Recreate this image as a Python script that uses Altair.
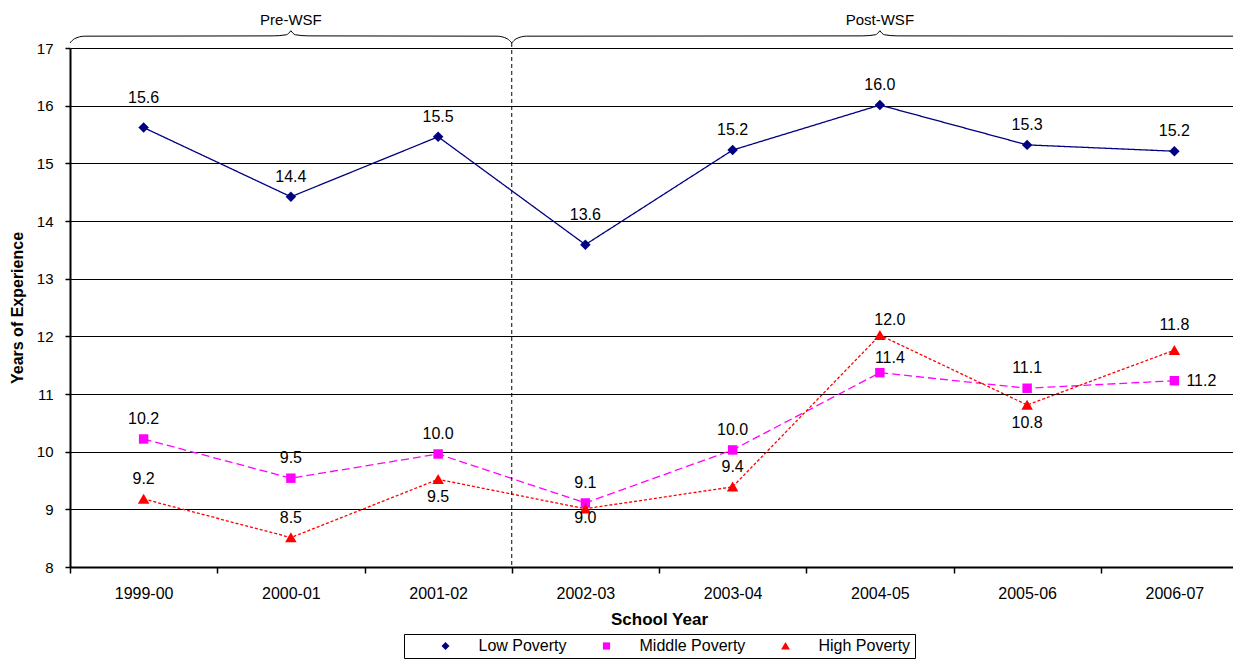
import altair as alt
import pandas as pd

# ---------------- data ----------------
years = ["1999-00", "2000-01", "2001-02", "2002-03", "2003-04", "2004-05", "2005-06", "2006-07"]
series = ["Low Poverty", "Middle Poverty", "High Poverty"]
low_poverty = [15.62, 14.42, 15.46, 13.59, 15.23, 16.01, 15.32, 15.21]
middle_poverty = [10.22, 9.54, 9.96, 9.11, 10.03, 11.37, 11.10, 11.23]
high_poverty = [9.18, 8.51, 9.52, 9.01, 9.39, 12.02, 10.81, 11.76]

# where each value label sits relative to its marker
low_label_place = ["high", "above", "above", "high", "above", "above", "above", "above"]
middle_label_place = ["above", "above", "above", "above", "above", "upright", "above", "right"]
high_label_place = ["above", "above", "below", "below_near", "above", "upright", "below", "above_far"]

period_names = ["Pre-WSF", "Post-WSF"]
period_start = [0, 3]   # in school-year slots
period_end = [3, 8]
wsf_boundary = 3

# ---------------- style ----------------
FONT = "Liberation Sans"
COLORS = ["#000080", "#FF00FF", "#FF0000"]
DASHES = [[1, 0], [8, 4], [3, 2]]
LEGEND_DASHES = [[1, 0], [9, 5], [3, 2]]
SHAPES = ["M0,-1L1,0L0,1L-1,0Z", "M-0.9,-0.9H0.9V0.9H-0.9Z", "M0,-1L1.1,0.9H-1.1Z"]
PLACE = {
    "above": (0, -20), "high": (0, -30), "above_far": (0, -25),
    "below": (0, 18), "below_near": (0, 9),
    "right": (27, 0), "upright": (10, -15),
}
Y_MIN, Y_MAX = 8, 17

rows = []
for s, vals, places in zip(series, [low_poverty, middle_poverty, high_poverty],
                           [low_label_place, middle_label_place, high_label_place]):
    for yr, v, p in zip(years, vals, places):
        rows.append({"year": yr, "series": s, "marker": s, "value": v, "place": p})
df = pd.DataFrame(rows)

# brace geometry (drawn above the top of the value axis)
B_END, B_FLAT, B_TIP = Y_MAX + 0.087, Y_MAX + 0.21, Y_MAX + 0.3


def brace(a, b, name):
    m = (a + b) / 2.0
    left = [(a, B_END), (a + 0.03, B_FLAT - 0.05), (a + 0.1, B_FLAT - 0.005), (m - 0.12, B_FLAT),
            (m - 0.03, B_FLAT + 0.02), (m, B_TIP)]
    right = [(m, B_TIP), (m + 0.03, B_FLAT + 0.02), (m + 0.12, B_FLAT), (b - 0.1, B_FLAT - 0.005),
             (b - 0.03, B_FLAT - 0.05), (b, B_END)]
    out = []
    for i, (px, py) in enumerate(left):
        out.append({"pos": px, "value": py, "seg": name + "L", "o": i})
    for i, (px, py) in enumerate(right):
        out.append({"pos": px, "value": py, "seg": name + "R", "o": i})
    return out


brace_rows = []
for n, a, b in zip(period_names, period_start, period_end):
    brace_rows += brace(a, b, n)
brace_df = pd.DataFrame(brace_rows)
period_df = pd.DataFrame({"period": period_names,
                          "pos": [(a + b) / 2.0 for a, b in zip(period_start, period_end)],
                          "value": [Y_MAX] * len(period_names)})
rule_df = pd.DataFrame({"pos": [wsf_boundary], "value": [B_END], "value2": [Y_MIN]})


# legend glyph: a (dashed) line drawn as thin filled bars, plus the marker
LEG_SIZE = 64
LEG_UNIT = (LEG_SIZE ** 0.5) / 2.0    # px per symbol unit
LEG_HALF = 24.5                       # half length of legend line, px
LEG_THICK = 0.6                       # half thickness, px


def legend_glyph(dash, marker):
    on, off = dash
    segs = []
    if off == 0:
        segs.append((-LEG_HALF, LEG_HALF))
    else:
        x = -LEG_HALF
        while x < LEG_HALF:
            segs.append((x, min(x + on, LEG_HALF)))
            x += on + off
    t = LEG_THICK / LEG_UNIT
    p = "".join("M{:.3f},{:.3f}H{:.3f}V{:.3f}H{:.3f}Z".format(
        a / LEG_UNIT, -t, b / LEG_UNIT, t, a / LEG_UNIT) for a, b in segs)
    return p + marker


glyphs = [legend_glyph(d, m) for d, m in zip(LEGEND_DASHES, SHAPES)]
glyph_expr = "'" + glyphs[-1] + "'"
for s, g in reversed(list(zip(series[:-1], glyphs[:-1]))):
    glyph_expr = "datum.value === '{}' ? '{}' : ({})".format(s, g, glyph_expr)

# ---------------- encodings ----------------
x_enc = alt.X("year:N", sort=years,
              scale=alt.Scale(type="band", paddingInner=0, paddingOuter=0),
              axis=alt.Axis(title="School Year", labelAngle=0, tickBand="extent", tickSize=6,
                            labelPadding=12, titlePadding=10, labelFontSize=16, titleFontSize=17,
                            titleFontWeight="bold", domainWidth=2, tickWidth=1.5, grid=False))
y_enc = alt.Y("value:Q", scale=alt.Scale(domain=[Y_MIN, Y_MAX], nice=False, zero=False),
              axis=alt.Axis(title="Years of Experience", values=list(range(Y_MIN, Y_MAX + 1)),
                            grid=True, gridColor="black", gridWidth=1, tickSize=5, labelPadding=12,
                            titlePadding=11, labelFontSize=15, titleFontSize=16,
                            titleFontWeight="bold", domainWidth=2, tickWidth=1.5))
legend = alt.Legend(
    title=None, orient="none", legendX=334, legendY=586, direction="horizontal",
    strokeColor="black", fillColor="white", padding=4, labelFont=FONT, labelFontSize=16,
    labelColor="black", symbolSize=LEG_SIZE, symbolStrokeWidth=0, symbolOffset=29.5,
    labelOffset=25, columnPadding=2, symbolOpacity=1,
    symbolType={"expr": glyph_expr},
    symbolFillColor={"expr": "scale('color', datum.value)"},
)
color_enc = alt.Color("series:N", scale=alt.Scale(domain=series, range=COLORS), legend=legend)

base = alt.Chart(df)
lines = base.mark_line(strokeWidth=1.3).encode(
    x=x_enc, y=y_enc, color=color_enc,
    strokeDash=alt.StrokeDash("marker:N", scale=alt.Scale(domain=series, range=DASHES), legend=None))
points = base.mark_point(filled=True, size=110, opacity=1).encode(
    x=x_enc, y=y_enc, color=color_enc,
    shape=alt.Shape("marker:N", scale=alt.Scale(domain=series, range=SHAPES), legend=None))
texts = []
for key, (dx, dy) in PLACE.items():
    texts.append(base.transform_filter(alt.datum.place == key).mark_text(
        dx=dx, dy=dy, font=FONT, fontSize=16, color="black").encode(
        x=x_enc, y=y_enc, text=alt.Text("value:Q", format=".1f")))
main = alt.layer(points, lines, *texts)

pos_enc = alt.X("pos:Q", scale=alt.Scale(domain=[0, len(years)], nice=False, zero=False), axis=None)
braces = alt.Chart(brace_df).mark_line(interpolate="monotone", color="black", strokeWidth=1,
                                       clip=False).encode(
    x=pos_enc, y=y_enc, detail="seg:N", order="o:Q")
rule = alt.Chart(rule_df).mark_rule(color="black", strokeWidth=1, strokeDash=[4, 3]).encode(
    x=pos_enc, y=y_enc, y2="value2:Q")
period_text = alt.Chart(period_df).mark_text(font=FONT, fontSize=15, color="black", dy=-28).encode(
    x=pos_enc, y=y_enc, text="period:N")
overlay = alt.layer(braces, rule, period_text)

chart = alt.layer(main, overlay).resolve_scale(x="independent").properties(
    width=1178, height=519,
    autosize=alt.AutoSizeParams(type="none"),
    padding={"left": 62, "top": 40, "right": -15, "bottom": 93},
).configure_view(stroke=None).configure_axis(
    labelFont=FONT, titleFont=FONT, labelColor="black", titleColor="black",
    domainColor="black", tickColor="black")

chart.save("out.html", embed_options={"renderer": "svg", "actions": False})
